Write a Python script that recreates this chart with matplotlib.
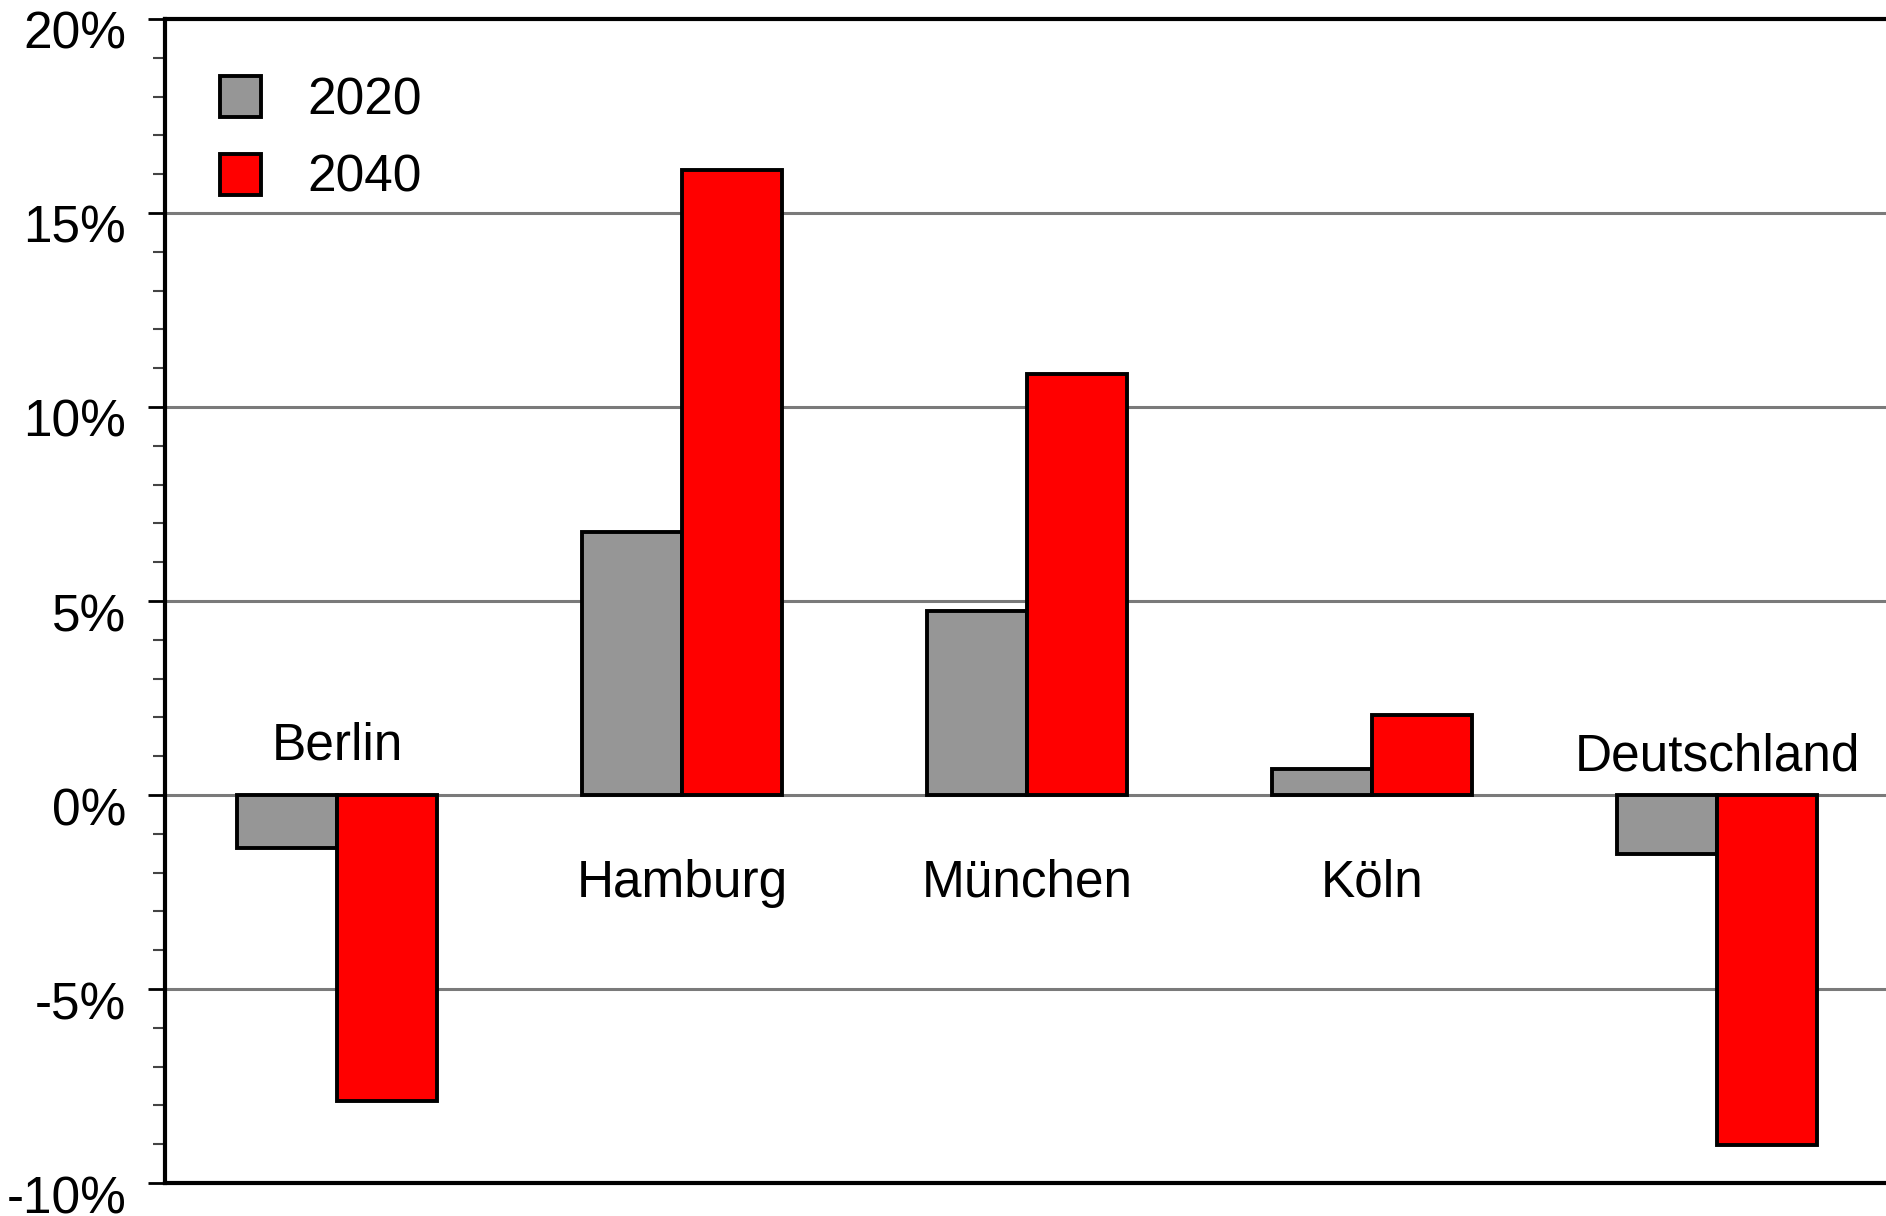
import numpy as np
import matplotlib
matplotlib.use("Agg")
import matplotlib.pyplot as plt
import matplotlib.transforms as mtransforms
from matplotlib.patches import Patch
from matplotlib.ticker import MultipleLocator, FuncFormatter

# data (percent change)
cities = ["Berlin", "Hamburg", "München", "Köln", "Deutschland"]
years = ["2020", "2040"]
vals_2020 = [-1.36, 6.79, 4.74, 0.68, -1.53]
vals_2040 = [-7.89, 16.12, 10.85, 2.05, -9.02]

# label placement (style only): vertical offset of the city name from 0%
label_y = [1.27, -2.27, -2.27, -2.27, 0.97]

plt.rcParams['font.family'] = ['Liberation Sans', 'DejaVu Sans']
fs = 37

fig = plt.figure(figsize=(18.86, 12.16), dpi=100)
ax = fig.add_axes([0.0875, 0.0271, 0.9125, 0.9573])

x = np.arange(len(cities))
w = 0.29
ax.bar(x - w / 2, vals_2020, width=w, color='#969696', edgecolor='black', linewidth=2.8, zorder=3)
ax.bar(x + w / 2, vals_2040, width=w, color='#ff0000', edgecolor='black', linewidth=2.8, zorder=3)

for xi, name, ly in zip(x, cities, label_y):
    ax.text(xi, ly, name, ha='center', va='center', fontsize=fs, zorder=4)

ax.set_xlim(-0.5, 4.49)
ax.set_ylim(-10, 20)
ax.set_xticks([])
ax.yaxis.set_major_locator(MultipleLocator(5))
ax.yaxis.set_minor_locator(MultipleLocator(1))
ax.yaxis.set_major_formatter(FuncFormatter(lambda v, p: f"{v:.0f}%"))
ax.tick_params(axis='y', which='major', length=12, width=2, labelsize=fs, pad=16)
ax.tick_params(axis='y', which='minor', length=9, width=1.5, color='#444444')

# tick labels sit a little below their ticks in the original
shift = mtransforms.ScaledTranslation(0, -11 / 100, fig.dpi_scale_trans)
for lab in ax.get_yticklabels():
    lab.set_transform(lab.get_transform() + shift)

for yv in [-5, 0, 5, 10, 15]:
    ax.axhline(yv, color='#7a7a7a', linewidth=2.2, zorder=1)

for s in ['left', 'top', 'bottom']:
    ax.spines[s].set_linewidth(3)
ax.spines['right'].set_visible(False)

handles = [Patch(facecolor='#969696', edgecolor='black', linewidth=2.8),
           Patch(facecolor='#ff0000', edgecolor='black', linewidth=2.8)]
ax.legend(handles, years, loc='upper left', bbox_to_anchor=(0.032, 0.951),
          frameon=False, fontsize=fs, handlelength=0.8, handleheight=0.85,
          handletextpad=0.9, labelspacing=0.55, borderpad=0, borderaxespad=0)

fig.savefig("out.png", dpi=100)
